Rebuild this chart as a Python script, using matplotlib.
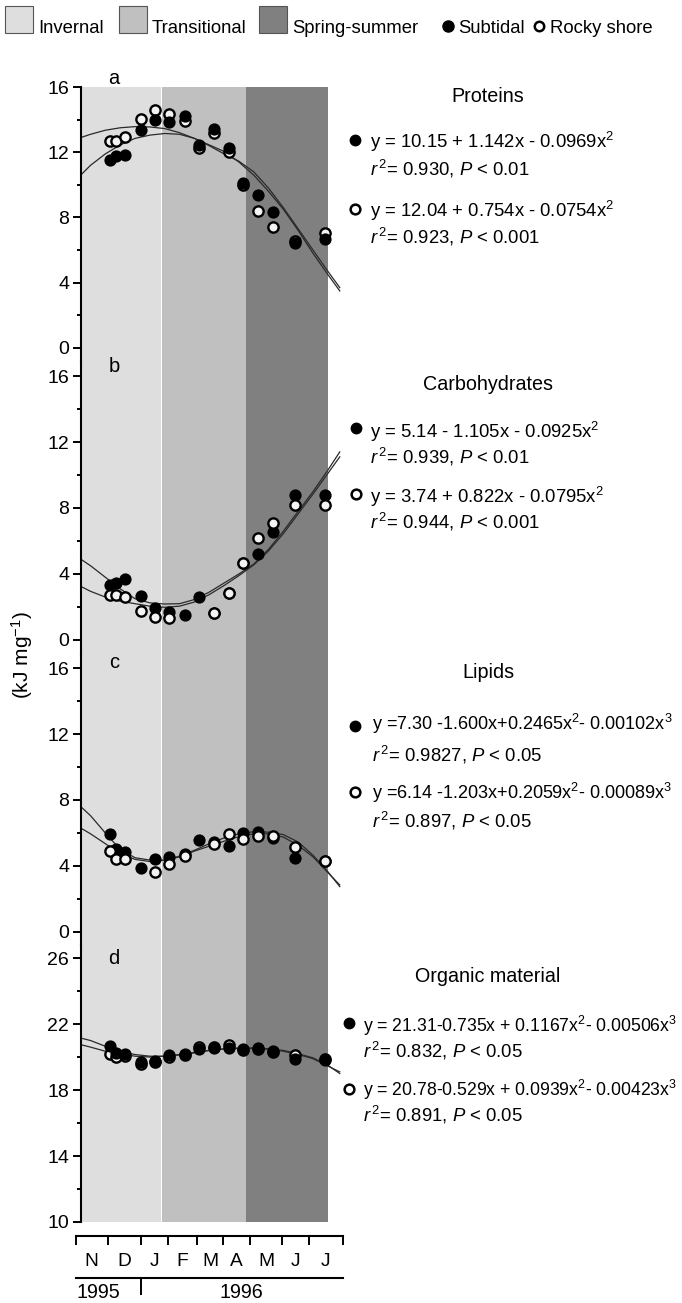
import numpy as np
import matplotlib
matplotlib.use("Agg")
import matplotlib.pyplot as plt
from matplotlib.lines import Line2D
from matplotlib.patches import Rectangle
from matplotlib.transforms import blended_transform_factory

plt.rcParams['font.family'] = ['Liberation Sans', 'DejaVu Sans']
plt.rcParams['mathtext.fontset'] = 'custom'
plt.rcParams['mathtext.rm'] = 'Liberation Sans'
plt.rcParams['mathtext.it'] = 'Liberation Sans:italic'
plt.rcParams['mathtext.bf'] = 'Liberation Sans:bold'
plt.rcParams['axes.unicode_minus'] = False

nan = np.nan

# ---------------- data ----------------
# x = months since 1 Nov 1995
month_edges = [0.0, 1.08, 2.19, 3.10, 4.08, 4.98, 5.87, 6.96, 7.85, 9.0]
month_labels = ['N', 'D', 'J', 'F', 'M', 'A', 'M', 'J', 'J']
year_labels = ['1995', '1996']
year_label_x = [0.76, 5.60]
year_split = 2.19

season_names = ['Invernal', 'Transitional', 'Spring-summer']
season_edges = [0.17, 2.86, 5.74, 8.50]
season_colors = ['#dedede', '#c0c0c0', '#808080']

sample_x = [1.16, 1.36, 1.67, 2.21, 2.66, 3.14, 3.69, 4.16, 4.67, 5.15, 5.65, 6.14, 6.65, 7.38, 8.40]
curve_x = [0.17, 0.5, 1.0, 1.5, 2.0, 2.5, 3.0, 3.5, 4.0, 4.5, 5.0, 5.5, 6.0, 6.5, 7.0, 7.5, 8.0, 8.5, 8.9]

# Proteins
prot_sub = [11.53, 11.77, 11.81, 13.37, 13.98, 13.88, 14.22, 12.45, 13.41, 12.24, 10.10, 9.38, 8.36, 6.42, 6.66]
prot_rock = [12.69, 12.69, 12.96, 14.04, 14.59, 14.35, 13.94, 12.28, 13.15, 12.04, 10.00, 8.40, 7.44, 6.58, 7.03]
prot_sub_fit = [10.6, 11.2, 11.9, 12.45, 12.85, 13.05, 13.15, 13.1, 12.85, 12.4, 11.9, 11.45, 10.8, 9.8, 8.6, 7.3, 6.0, 4.7, 3.7]
prot_rock_fit = [12.9, 13.1, 13.35, 13.5, 13.57, 13.55, 13.45, 13.2, 12.85, 12.45, 12.05, 11.4, 10.6, 9.6, 8.5, 7.2, 5.8, 4.5, 3.5]

# Carbohydrates
carb_sub = [3.33, 3.43, 3.68, 2.67, 1.92, 1.68, 1.52, 2.62, 1.65, 2.87, 4.69, 5.21, 6.53, 8.79, 8.79]
carb_rock = [2.73, 2.73, 2.63, 1.76, 1.41, 1.31, nan, nan, 1.65, 2.87, 4.69, 6.16, 7.11, 8.18, 8.18]
carb_sub_fit = [4.9, 4.5, 3.8, 3.1, 2.5, 2.25, 2.18, 2.2, 2.45, 2.9, 3.45, 4.0, 4.6, 5.5, 6.6, 7.8, 9.0, 10.3, 11.4]
carb_rock_fit = [3.25, 2.95, 2.6, 2.35, 2.2, 2.05, 1.98, 2.05, 2.3, 2.75, 3.3, 3.9, 4.55, 5.4, 6.45, 7.65, 8.85, 10.1, 11.1]

# Lipids
lip_sub = [5.94, 5.01, 4.87, 3.86, 4.41, 4.57, 4.75, 5.58, 5.47, 5.21, 5.98, 6.08, 5.68, 4.46, 4.32]
lip_rock = [4.93, 4.41, 4.42, nan, 3.65, 4.12, 4.60, nan, 5.33, 5.92, 5.62, 5.82, 5.82, 5.13, 4.32]
lip_sub_fit = [7.6, 7.05, 6.0, 5.0, 4.5, 4.36, 4.35, 4.6, 4.95, 5.35, 5.7, 5.95, 6.08, 6.05, 5.9, 5.45, 4.65, 3.65, 2.75]
lip_rock_fit = [6.3, 5.95, 5.35, 4.75, 4.4, 4.27, 4.35, 4.55, 4.9, 5.2, 5.5, 5.78, 5.95, 5.95, 5.75, 5.25, 4.55, 3.6, 2.85]

# Organic material
org_sub = [20.66, 20.26, 20.16, 19.70, 19.75, 20.10, 20.20, 20.50, 20.55, 20.55, 20.50, 20.56, 20.36, 19.85, 19.80]
org_rock = [20.20, 20.00, 20.05, 19.56, 19.72, 20.00, 20.10, 20.62, 20.60, 20.72, 20.45, 20.50, 20.30, 20.10, 19.90]
org_sub_fit = [21.15, 21.0, 20.65, 20.35, 20.15, 20.05, 20.05, 20.12, 20.25, 20.4, 20.5, 20.55, 20.55, 20.5, 20.4, 20.2, 19.95, 19.5, 19.0]
org_rock_fit = [20.75, 20.6, 20.35, 20.2, 20.05, 20.0, 20.05, 20.15, 20.28, 20.4, 20.48, 20.52, 20.52, 20.47, 20.35, 20.15, 19.9, 19.45, 19.1]

panel_letters = ['a', 'b', 'c', 'd']
panel_titles = ['Proteins', 'Carbohydrates', 'Lipids', 'Organic material']
eq_sub = ['y = 10.15 + 1.142x - 0.0969x$^{2}$',
          'y = 5.14 - 1.105x - 0.0925x$^{2}$',
          'y =7.30 -1.600x+0.2465x$^{2}$- 0.00102x$^{3}$',
          'y = 21.31-0.735x + 0.1167x$^{2}$- 0.00506x$^{3}$']
stat_sub = ['$r^{\\,2}$= 0.930, $P$ < 0.01',
            '$r^{\\,2}$= 0.939, $P$ < 0.01',
            '$r^{\\,2}$= 0.9827, $P$ < 0.05',
            '$r^{\\,2}$= 0.832, $P$ < 0.05']
eq_rock = ['y = 12.04 + 0.754x - 0.0754x$^{2}$',
           'y = 3.74 + 0.822x - 0.0795x$^{2}$',
           'y =6.14 -1.203x+0.2059x$^{2}$- 0.00089x$^{3}$',
           'y = 20.78-0.529x + 0.0939x$^{2}$- 0.00423x$^{3}$']
stat_rock = ['$r^{\\,2}$= 0.923, $P$ < 0.001',
             '$r^{\\,2}$= 0.944, $P$ < 0.001',
             '$r^{\\,2}$= 0.897, $P$ < 0.05',
             '$r^{\\,2}$= 0.891, $P$ < 0.05']
legend_labels = ['Subtidal', 'Rocky shore']

# ---------------- layout (pixels) ----------------
W, H = 682, 1303
def fx(px): return px / W
def fy(py): return 1 - py / H

fig = plt.figure(figsize=(W / 100, H / 100), dpi=100)

X0PX, XPX_PER = 75.7, 29.67
XMAX = (345 - X0PX) / XPX_PER

panels = [
    dict(sub=prot_sub, rock=prot_rock, sfit=prot_sub_fit, rfit=prot_rock_fit,
         top=87, bot=362, ylim=(-0.86, 16), major=[0, 4, 8, 12, 16], minor=[2, 6, 10, 14],
         letter_py=78, title_py=97, eq_py=[141, 168, 210, 236], bul_py=[140, 209], eq_px=370, bul_px=355,
         open_top=False, eqfs=13.3),
    dict(sub=carb_sub, rock=carb_rock, sfit=carb_sub_fit, rfit=carb_rock_fit,
         top=362, bot=654, ylim=(-0.85, 16.85), major=[0, 4, 8, 12, 16], minor=[2, 6, 10, 14],
         letter_py=367, title_py=385, eq_py=[431, 457, 496, 522], bul_py=[428, 494], eq_px=370, bul_px=356,
         open_top=True, eqfs=13.3),
    dict(sub=lip_sub, rock=lip_rock, sfit=lip_sub_fit, rfit=lip_rock_fit,
         top=654, bot=945, ylim=(-0.79, 16.85), major=[0, 4, 8, 12, 16], minor=[2, 6, 10, 14],
         letter_py=662, title_py=673, eq_py=[723, 755, 792, 820], bul_py=[726, 792], eq_px=372, bul_px=355,
         open_top=True, eqfs=13.0),
    dict(sub=org_sub, rock=org_rock, sfit=org_sub_fit, rfit=org_rock_fit,
         top=945, bot=1222, ylim=(10, 26.79), major=[10, 14, 18, 22, 26], minor=[12, 16, 20, 24],
         letter_py=958, title_py=977, eq_py=[1025, 1050, 1089, 1115], bul_py=[1023, 1089], eq_px=363, bul_px=349,
         open_top=False, eqfs=12.7),
]

TICKFS = 14
TITLEFS = 14.2
OPEN_FACE = '#f4f4f4'
LINEC = '#2a2a2a'

for i, p in enumerate(panels):
    ax = fig.add_axes([fx(X0PX), fy(p['bot']), (345 - X0PX) / W, (p['bot'] - p['top']) / H])
    ax.set_xlim(0, XMAX)
    ax.set_ylim(*p['ylim'])
    ax.patch.set_alpha(0)
    for s in ['top', 'right', 'bottom']:
        ax.spines[s].set_visible(False)
    ax.spines['left'].set_position(('data', season_edges[0]))
    ax.spines['left'].set_linewidth(1.5)
    ax.set_xticks([])
    ax.set_yticks(p['major'])
    ax.set_yticks(p['minor'], minor=True)
    ax.tick_params(axis='y', which='major', direction='out', length=5.8, width=1.4,
                   labelsize=TICKFS, pad=2.5)
    ax.tick_params(axis='y', which='minor', direction='out', length=3, width=1.4)
    for k in range(3):
        lo = season_edges[k] if k != 1 else season_edges[k] + 0.035
        ax.axvspan(lo, season_edges[k + 1], color=season_colors[k], lw=0, zorder=0)
    ax.plot(curve_x, p['sfit'], color=LINEC, lw=0.9, zorder=2, clip_on=False)
    ax.plot(curve_x, p['rfit'], color=LINEC, lw=0.9, zorder=2, clip_on=False)
    zs, zr = (4, 5) if p['open_top'] else (5, 4)
    ax.plot(sample_x, p['sub'], 'o', ms=7.6, mfc='black', mec='black', mew=1.2, zorder=zs, clip_on=False)
    ax.plot(sample_x, p['rock'], 'o', ms=7.4, mfc=OPEN_FACE, mec='black', mew=1.7, zorder=zr, clip_on=False)

    # panel letter
    fig.text(fx(114), fy(p['letter_py']), panel_letters[i], fontsize=14.5, ha='center', va='center')
    # right-hand annotation
    fig.text(fx(488), fy(p['title_py']), panel_titles[i], fontsize=TITLEFS, ha='center', va='center')
    fig.add_artist(Line2D([fx(p['bul_px'])], [fy(p['bul_py'][0])], marker='o', ms=7.5,
                          mfc='black', mec='black', mew=1, transform=fig.transFigure))
    fig.add_artist(Line2D([fx(p['bul_px'])], [fy(p['bul_py'][1])], marker='o', ms=7,
                          mfc='white', mec='black', mew=1.8, transform=fig.transFigure))
    ex = fx(p['eq_px'])
    fig.text(ex, fy(p['eq_py'][0] + 7), eq_sub[i], fontsize=p['eqfs'], ha='left', va='baseline')
    fig.text(ex, fy(p['eq_py'][1] + 7), stat_sub[i], fontsize=13.3, ha='left', va='baseline')
    fig.text(ex, fy(p['eq_py'][2] + 7), eq_rock[i], fontsize=p['eqfs'], ha='left', va='baseline')
    fig.text(ex, fy(p['eq_py'][3] + 7), stat_rock[i], fontsize=13.3, ha='left', va='baseline')

# y label
fig.text(fx(22), fy(655), '(kJ mg$^{-1}$)', rotation=90, fontsize=15, ha='center', va='center')

# ---------------- month axis ----------------
axm = fig.add_axes([fx(75.7), fy(1236), 267 / W, 0.0005])
axm.set_xlim(0, 9)
axm.set_ylim(0, 1)
axm.patch.set_alpha(0)
for s in ['top', 'right', 'left']:
    axm.spines[s].set_visible(False)
axm.spines['bottom'].set_linewidth(1.5)
axm.set_yticks([])
axm.set_xticks(month_edges)
axm.set_xticklabels([])
axm.tick_params(axis='x', direction='out', length=6.5, width=1.4)
tr = blended_transform_factory(axm.transData, fig.transFigure)
for k, lab in enumerate(month_labels):
    axm.text((month_edges[k] + month_edges[k + 1]) / 2, fy(1262), lab, transform=tr,
             ha='center', va='center', fontsize=13.8)

axy = fig.add_axes([fx(75.7), fy(1278), 267 / W, 0.0005])
axy.set_xlim(0, 9)
axy.set_ylim(0, 1)
axy.patch.set_alpha(0)
for s in ['top', 'right', 'left']:
    axy.spines[s].set_visible(False)
axy.spines['bottom'].set_linewidth(1.5)
axy.set_yticks([])
axy.set_xticks([year_split])
axy.set_xticklabels([])
axy.tick_params(axis='x', direction='out', length=12, width=1.4)
tr2 = blended_transform_factory(axy.transData, fig.transFigure)
for xx, lab in zip(year_label_x, year_labels):
    axy.text(xx, fy(1292), lab, transform=tr2, ha='center', va='center', fontsize=14.2)

# ---------------- legend ----------------
LEGFS = 13.3
sq_px = [5, 119, 259]
for k in range(3):
    fig.add_artist(Rectangle((fx(sq_px[k]), fy(33)), 28 / W, 27 / H, transform=fig.transFigure,
                             facecolor=season_colors[k], edgecolor='#555555', lw=0.8))
    fig.text(fx(sq_px[k] + 33), fy(33), season_names[k], fontsize=LEGFS, ha='left', va='baseline')
fig.add_artist(Line2D([fx(448)], [fy(26)], marker='o', ms=8, mfc='black', mec='black',
                      transform=fig.transFigure))
fig.text(fx(458), fy(33), legend_labels[0], fontsize=LEGFS, ha='left', va='baseline')
fig.add_artist(Line2D([fx(539)], [fy(26)], marker='o', ms=6.8, mfc='white', mec='black', mew=1.8,
                      transform=fig.transFigure))
fig.text(fx(550), fy(33), legend_labels[1], fontsize=LEGFS, ha='left', va='baseline')

fig.savefig('out.png', dpi=100)
